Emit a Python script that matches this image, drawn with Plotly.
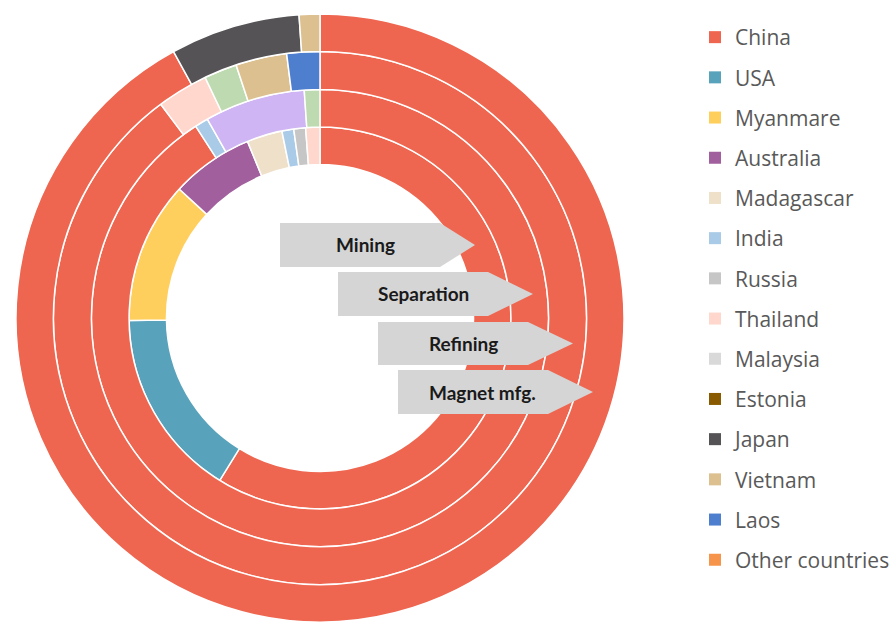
import plotly.graph_objects as go

# ---------------- data ----------------
stages = ["Mining", "Separation", "Refining", "Magnet mfg."]

mining_labels = ["China", "USA", "Myanmare", "Australia", "Madagascar", "India", "Russia", "Thailand"]
mining_values = [58.8, 16.0, 12.0, 7.0, 3.0, 1.0, 1.0, 1.2]

separation_labels = ["China", "India", "Malaysia", "Estonia"]
separation_values = [90.8, 0.95, 7.1, 1.1]

refining_labels = ["China", "Thailand", "Estonia", "Vietnam", "Laos"]
refining_values = [89.9, 3.1, 2.0, 3.1, 2.0]

magnet_labels = ["China", "Japan", "Vietnam"]
magnet_values = [92.0, 6.9, 1.1]

legend_labels = ["China", "USA", "Myanmare", "Australia", "Madagascar", "India", "Russia",
                 "Thailand", "Malaysia", "Estonia", "Japan", "Vietnam", "Laos", "Other countries"]
legend_colors = ["#EF6650", "#58A2BC", "#FFCF5E", "#A15F9E", "#EFE1C9", "#AACBE7", "#C6C6C6",
                 "#FFD7CC", "#D9D9D9", "#8A5A00", "#555355", "#DCC08F", "#4E7FCE", "#F7944B"]

# colours used inside the rings (Malaysia / Estonia drawn differently in the rings)
ring_colors = dict(zip(legend_labels, legend_colors))
ring_colors["Malaysia"] = "#CFB5F3"
ring_colors["Estonia"] = "#BEDAB0"

# ---------------- geometry ----------------
W, H = 892, 622
CX = 320            # centre x (px)
R = 304             # outer radius (px)
CY_B = R            # centre distance from bottom (px)
ring_fracs = [0.505, 0.628, 0.752, 0.877, 1.0]  # ring boundaries as fraction of R

fig = go.Figure()

rings = [
    (mining_labels, mining_values),
    (separation_labels, separation_values),
    (refining_labels, refining_values),
    (magnet_labels, magnet_values),
]

for i, (labs, vals) in enumerate(rings):
    r_in = ring_fracs[i] * R
    r_out = ring_fracs[i + 1] * R
    fig.add_trace(go.Pie(
        labels=labs, values=vals, name=stages[i],
        sort=False, direction="clockwise", rotation=0,
        hole=r_in / r_out,
        marker=dict(colors=[ring_colors[l] for l in labs], line=dict(color="white", width=1.5)),
        textinfo="none", hoverinfo="label+percent+name",
        showlegend=False,
        domain=dict(x=[(CX - r_out) / W, (CX + r_out) / W],
                    y=[(CY_B - r_out) / H, (CY_B + r_out) / H]),
    ))

# legend entries
for lab, col in zip(legend_labels, legend_colors):
    fig.add_trace(go.Scatter(
        x=[None], y=[None], mode="markers", name=lab, legendgroup=lab,
        marker=dict(symbol="square", size=12, color=col),
        hoverinfo="skip", showlegend=True,
    ))

# arrow callouts (pixel geometry: left, rect end, tip, top, bottom)
arrow_geom = [
    (280, 440, 475, 223, 267),
    (338, 488, 533, 272, 316),
    (378, 528, 573, 322, 365),
    (398, 548, 593, 370, 414),
]

def px(x):
    return x / W

def py(y):
    return 1 - y / H

shapes = []
annotations = []
for stage, (l, re, tip, t, b) in zip(stages, arrow_geom):
    mid = (t + b) / 2
    path = (f"M {px(l)},{py(t)} L {px(re)},{py(t)} L {px(tip)},{py(mid)} "
            f"L {px(re)},{py(b)} L {px(l)},{py(b)} Z")
    shapes.append(dict(type="path", xref="paper", yref="paper", path=path,
                       fillcolor="#D5D5D5", line=dict(width=0), layer="above"))
    annotations.append(dict(x=px(l + 85), y=py(mid), xref="paper", yref="paper",
                            text=f"<b>{stage}</b>", showarrow=False,
                            xanchor="center", yanchor="middle",
                            font=dict(family="Lato", size=19, color="#1A1A1A")))

fig.update_layout(
    width=W, height=H,
    margin=dict(l=0, r=0, t=0, b=0, autoexpand=False),
    paper_bgcolor="white", plot_bgcolor="white",
    xaxis=dict(visible=False), yaxis=dict(visible=False),
    shapes=shapes, annotations=annotations,
    showlegend=True,
    legend=dict(x=695 / W, y=1 - 17 / H, xanchor="left", yanchor="top",
                traceorder="grouped", tracegroupgap=9.9,
                font=dict(family="Open Sans", size=21, color="#595959"),
                bgcolor="rgba(0,0,0,0)"),
)

fig.write_html("out.html", config={"displayModeBar": False},
               post_script="document.body.style.margin='0';document.body.style.padding='0';")
